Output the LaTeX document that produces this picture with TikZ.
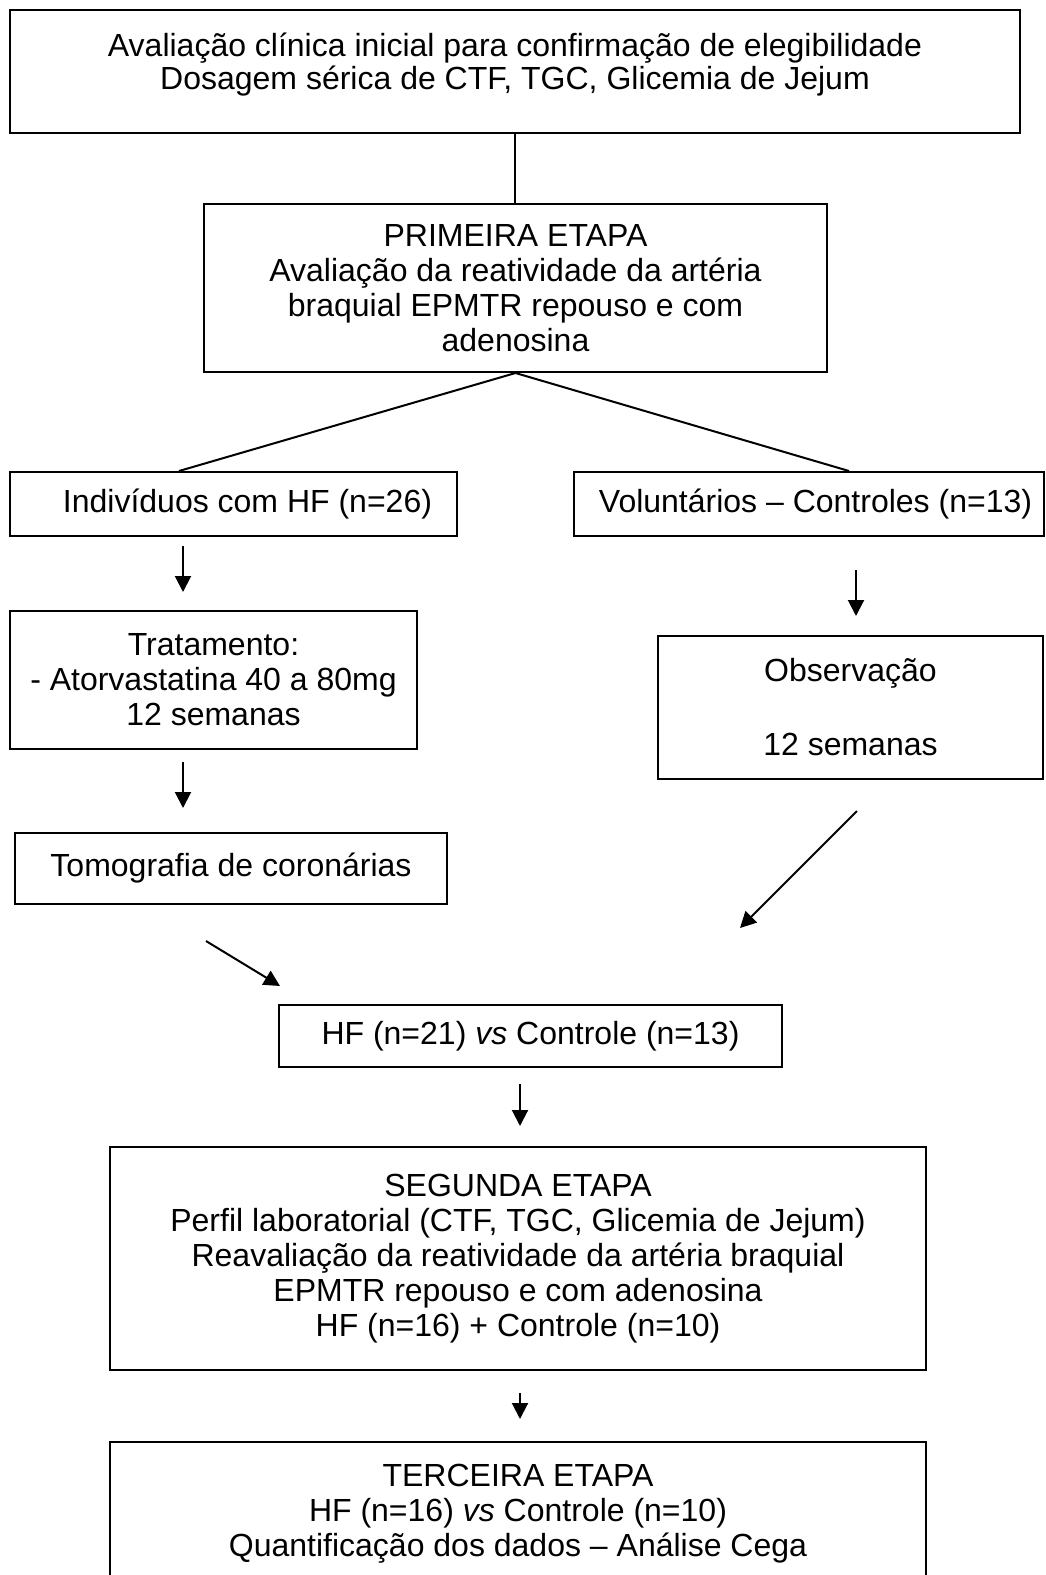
\documentclass[tikz,border=0pt]{standalone}
\usepackage{fontspec}
\setmainfont{Liberation Sans}
\usetikzlibrary{arrows.meta}
\tikzset{box/.style={draw,line width=1pt,inner sep=0pt,align=center,font=\fontsize{16}{17.5}\selectfont},
         txt/.style={inner sep=0pt,align=center,font=\fontsize{16}{17.5}\selectfont}}

\begin{document}
\begin{tikzpicture}[x=0.5pt,y=-0.5pt,line width=1pt,>={Triangle[length=8pt,width=8pt]}]
      \useasboundingbox (0,0) rectangle (1045,1575);

      \node[box,minimum width=505pt,minimum height=61.5pt] (aval) at (515,71.5) {};
      \node[txt,font=\fontsize{16}{16.5}\selectfont] (avaltxt) at (515,64.5) {Avaliação clínica inicial para confirmação de elegibilidade\\Dosagem sérica de CTF, TGC, Glicemia de Jejum};
      \node[box,minimum width=311.5pt,minimum height=84pt] (prim) at (515.5,288) {PRIMEIRA ETAPA\\Avaliação da reatividade da artéria\\braquial EPMTR repouso e com\\adenosina};
      \node[box,minimum width=223.5pt,minimum height=32pt] (ind) at (233.5,504) {};
      \node[txt] (indtxt) at (247.5,504) {Indivíduos com HF (n=26)};
      \node[box,minimum width=235pt,minimum height=32pt] (vol) at (808.5,504) {};
      \node[txt] (voltxt) at (815.5,504) {Voluntários – Controles (n=13)};
      \node[box,minimum width=203.5pt,minimum height=69pt] (trat) at (213.5,680) {Tratamento:\\- Atorvastatina 40 a 80mg\\12 semanas};
      \node[box,minimum width=192.5pt,minimum height=71.5pt] (obs) at (850.5,707.5) {Observação\\[19.5pt]12 semanas};
      \node[box,minimum width=216pt,minimum height=35.5pt] (tomo) at (231,868.5) {Tomografia de coronárias};
      \node[box,minimum width=251.5pt,minimum height=31pt] (hf) at (530.5,1036) {HF (n=21) \textit{vs} Controle (n=13)};
      \node[box,minimum width=408pt,minimum height=111.5pt] (seg) at (518,1258.5) {SEGUNDA ETAPA\\Perfil laboratorial (CTF, TGC, Glicemia de Jejum)\\Reavaliação da reatividade da artéria braquial\\EPMTR repouso e com adenosina\\HF (n=16) + Controle (n=10)};
      \node[box,minimum width=408pt,minimum height=72pt] (ter) at (518,1514) {TERCEIRA ETAPA\\HF (n=16) \textit{vs} Controle (n=10)\\Quantificação dos dados – Análise Cega};

      \draw (aval.south) -- (aval.south |- prim.north);
      \draw (prim.south) -- ([xshift=-27.25pt]ind.north);
      \draw (prim.south) -- ([xshift=20.25pt]vol.north);

      \draw[->] ([xshift=-25.25pt,yshift=-4.5pt]ind.south) -- ([xshift=-15.25pt,yshift=9pt]trat.north);
      \draw[->] ([xshift=23.75pt,yshift=-16.5pt]vol.south) -- ([xshift=2.75pt,yshift=9.5pt]obs.north);
      \draw[->] ([xshift=-15.25pt,yshift=-6pt]trat.south) -- ([xshift=-24pt,yshift=12pt]tomo.north);
      \draw[->] ([xshift=-12.5pt,yshift=-18pt]tomo.south) -- ([xshift=1pt,yshift=9pt]hf.north west);
      \draw[->] ([xshift=3.25pt,yshift=-15.5pt]obs.south) -- ([xshift=-21.5pt,yshift=38pt]hf.north east);
      \draw[->] ([xshift=-5.25pt,yshift=-8pt]hf.south) -- ([xshift=1pt,yshift=10pt]seg.north);
      \draw[->] ([xshift=1pt,yshift=-11pt]seg.south) -- ([xshift=1pt,yshift=11pt]ter.north);
    \end{tikzpicture}
\end{document}
